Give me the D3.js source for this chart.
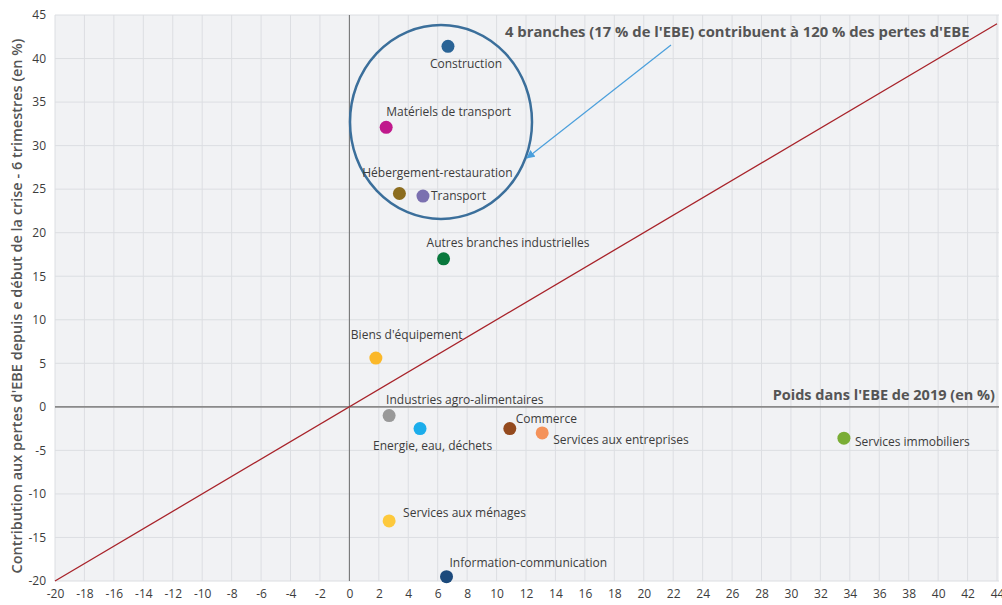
<!DOCTYPE html>
<html>
<head>
<meta charset="utf-8">
<script src="https://cdn.jsdelivr.net/npm/d3@7"></script>
<style>
  body { margin: 0; background: #fff; }
  svg text { font-family: "Open Sans", "Noto Sans", sans-serif; fill: #3c3c3c; }
  .tick text { font-size: 12px; fill: #3c3c3c; }
  .lbl { font-size: 12px; }
  .title { font-size: 14.5px; font-weight: bold; fill: #555; }
  .note { font-size: 14.8px; font-weight: bold; fill: #555; }
</style>
</head>
<body>
<div id="chart"></div>
<script>
// branches, EBE weight 2019 (%) and contribution to EBE losses (%)
var branches = ["Construction", "Matériels de transport", "Hébergement-restauration", "Transport",
  "Autres branches industrielles", "Biens d'équipement", "Industries agro-alimentaires",
  "Energie, eau, déchets", "Commerce", "Services aux entreprises", "Services immobiliers",
  "Services aux ménages", "Information-communication"];
var poids = [6.7, 2.5, 3.4, 5.0, 6.4, 1.8, 2.7, 4.8, 10.9, 13.1, 33.6, 2.7, 6.6];
var contrib = [41.4, 32.1, 24.5, 24.2, 17.0, 5.6, -1.0, -2.5, -2.5, -3.0, -3.6, -13.1, -19.5];
var colors = ["#2a6496", "#c0198c", "#8c6d1f", "#7b70b0", "#08783c", "#fbb829", "#999999",
  "#1badeb", "#944a1e", "#f4925a", "#7aad35", "#fdc93c", "#1c4a7c"];

var xTicks = d3.range(-20, 45, 2);
var yTicks = d3.range(-20, 46, 5);

// label placement relative to each dot: [dx, dy, anchor]
var labelPos = {
  "Construction": [18, 22, "middle"],
  "Matériels de transport": [0, -11, "start"],
  "Hébergement-restauration": [38, -17, "middle"],
  "Transport": [8, 4, "start"],
  "Autres branches industrielles": [-17, -12, "start"],
  "Biens d'équipement": [-25, -19, "start"],
  "Industries agro-alimentaires": [-3, -12, "start"],
  "Energie, eau, déchets": [-47, 21, "start"],
  "Commerce": [6, -6, "start"],
  "Services aux entreprises": [11, 11, "start"],
  "Services immobiliers": [11, 8, "start"],
  "Services aux ménages": [14, -4, "start"],
  "Information-communication": [3, -10, "start"]
};

var W = 1002, H = 605;
var plot = {left: 55, right: 997, top: 15, bottom: 581, bgRight: 999};

var xScale = d3.scaleLinear().domain([-20, 44]).range([plot.left, plot.right]);
var yScale = d3.scaleLinear().domain([-20, 45]).range([plot.bottom, plot.top]);

var svg = d3.select("#chart").append("svg")
  .attr("width", W)
  .attr("height", H);

// plot background
svg.append("rect")
  .attr("x", plot.left)
  .attr("y", plot.top)
  .attr("width", plot.bgRight - plot.left)
  .attr("height", plot.bottom - plot.top)
  .style("fill", "#f1f2f4");

// grid
svg.append("g").selectAll("line")
  .data(xTicks)
  .enter().append("line")
  .attr("x1", function(d) { return xScale(d); })
  .attr("x2", function(d) { return xScale(d); })
  .attr("y1", plot.top).attr("y2", plot.bottom)
  .style("stroke", "#dcdee2").style("stroke-width", 1);

svg.append("g").selectAll("line")
  .data(yTicks)
  .enter().append("line")
  .attr("x1", plot.left).attr("x2", plot.bgRight)
  .attr("y1", function(d) { return yScale(d); })
  .attr("y2", function(d) { return yScale(d); })
  .style("stroke", "#dcdee2").style("stroke-width", 1);

// zero lines
svg.append("line")
  .attr("x1", xScale(0)).attr("x2", xScale(0))
  .attr("y1", plot.top).attr("y2", plot.bottom)
  .style("stroke", "#6e6e6e").style("stroke-width", 1);

svg.append("line")
  .attr("x1", plot.left).attr("x2", plot.bgRight)
  .attr("y1", yScale(0)).attr("y2", yScale(0))
  .style("stroke", "#8a8a8a").style("stroke-width", 1.6);

// axes (labels only), plain hyphen for negatives
var fmt = function(d) { return String(d); };
var xAxis = d3.axisBottom(xScale).tickValues(xTicks).tickFormat(fmt).tickSize(0).tickPadding(8);
var yAxis = d3.axisLeft(yScale).tickValues(yTicks).tickFormat(fmt).tickSize(0).tickPadding(9);

svg.append("g")
  .attr("transform", "translate(0," + plot.bottom + ")")
  .call(xAxis)
  .call(function(g) { g.select(".domain").remove(); });

svg.append("g")
  .attr("transform", "translate(" + plot.left + ",0)")
  .call(yAxis)
  .call(function(g) { g.select(".domain").remove(); });

// diagonal y = x
svg.append("line")
  .attr("x1", xScale(-20)).attr("y1", yScale(-20))
  .attr("x2", xScale(44)).attr("y2", yScale(44))
  .style("stroke", "#a8232a").style("stroke-width", 1.3);

// axis titles
svg.append("text")
  .attr("class", "title")
  .attr("x", 995).attr("y", yScale(0) - 7)
  .style("text-anchor", "end")
  .text("Poids dans l'EBE de 2019 (en %)");

svg.append("text")
  .attr("class", "title")
  .attr("transform", "translate(22," + ((plot.top + plot.bottom) / 2 + 8) + ") rotate(-90)")
  .style("text-anchor", "middle")
  .style("font-weight", 600)
  .text("Contribution aux pertes d'EBE depuis e début de la crise - 6 trimestres (en %)");

// annotation ellipse + arrow
svg.append("defs").append("marker")
  .attr("id", "arrow")
  .attr("viewBox", "0 0 10 10")
  .attr("refX", 9).attr("refY", 5)
  .attr("markerWidth", 7).attr("markerHeight", 7)
  .attr("orient", "auto")
  .append("path")
  .attr("d", "M0,0 L10,5 L0,10 Z")
  .style("fill", "#4a9fdc");

svg.append("ellipse")
  .attr("cx", 441).attr("cy", 122)
  .attr("rx", 91).attr("ry", 97)
  .style("fill", "none")
  .style("stroke", "#3b6f9b")
  .style("stroke-width", 2.5);

svg.append("line")
  .attr("x1", 671).attr("y1", 45)
  .attr("x2", 527).attr("y2", 158)
  .attr("marker-end", "url(#arrow)")
  .style("stroke", "#4a9fdc").style("stroke-width", 1.2);

svg.append("text")
  .attr("class", "note")
  .attr("x", 505).attr("y", 37)
  .text("4 branches (17 % de l'EBE) contribuent à 120 % des pertes d'EBE");

// dots and labels
var pts = branches.map(function(b, i) {
  return { name: b, x: poids[i], y: contrib[i], color: colors[i] };
});

svg.append("g").selectAll("circle")
  .data(pts)
  .enter().append("circle")
  .attr("cx", function(d) { return xScale(d.x); })
  .attr("cy", function(d) { return yScale(d.y); })
  .attr("r", 6.5)
  .style("fill", function(d) { return d.color; });

svg.append("g").selectAll("text")
  .data(pts)
  .enter().append("text")
  .attr("class", "lbl")
  .attr("x", function(d) { return xScale(d.x) + labelPos[d.name][0]; })
  .attr("y", function(d) { return yScale(d.y) + labelPos[d.name][1]; })
  .style("text-anchor", function(d) { return labelPos[d.name][2]; })
  .text(function(d) { return d.name; });
</script>
</body>
</html>
